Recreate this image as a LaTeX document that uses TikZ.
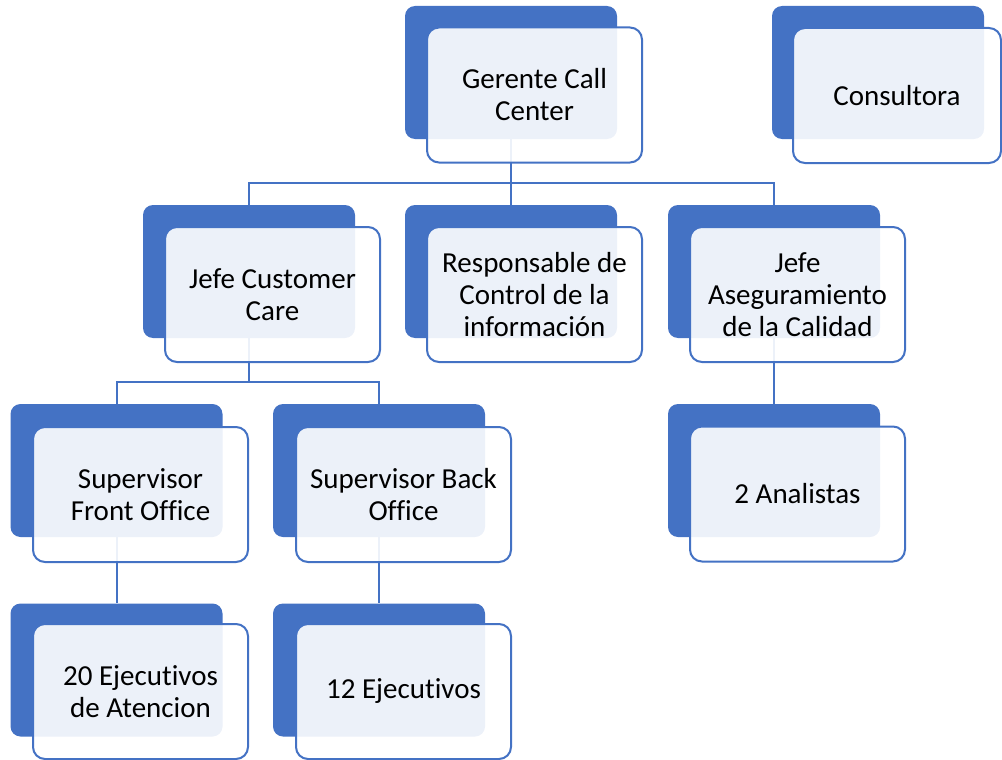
\documentclass[tikz,border=0pt]{standalone}
\usepackage{fontspec}
\setmainfont{Carlito}[Ligatures={NoCommon}]
\definecolor{acc}{HTML}{4472C4}
\begin{document}
\begin{tikzpicture}[x=1pt,y=-1pt,
  backbox/.style={fill=acc, rounded corners=10pt, minimum width=212pt, minimum height=133pt, inner sep=0pt},
  frontbox/.style={draw=acc, line width=2pt, fill=white, fill opacity=0.9, text opacity=1,
    rounded corners=12pt, minimum width=215pt, minimum height=135pt, inner sep=0pt,
    align=center, font=\fontsize{29}{32}\selectfont},
  conn/.style={draw=acc, line width=2pt}]
\useasboundingbox (0,0) rectangle (1002,760);
% back boxes
\node[backbox] (gB) at (511,72.5) {};
\node[backbox] (cB) at (878,72.5) {};
\node[backbox] (jcB) at (249,271.5) {};
\node[backbox] (rB) at (511,271.5) {};
\node[backbox] (jaB) at (774,271.5) {};
\node[backbox] (sfB) at (116.5,470.5) {};
\node[backbox] (sbB) at (379,470.5) {};
\node[backbox] (anB) at (774,470.5) {};
\node[backbox] (e20B) at (116.5,670) {};
\node[backbox] (e12B) at (379,670) {};
% connectors
\draw[conn] (gB.south) -- ++(0,44) coordinate (h1) -| (jcB.north);
\draw[conn] (h1) -| (jaB.north);
\draw[conn] (gB.south) -- (rB.north);
\draw[conn] (jcB.south) -- ++(0,44) coordinate (h2) -| (sfB.north);
\draw[conn] (h2) -| (sbB.north);
\draw[conn] (jaB.south) -- (anB.north);
\draw[conn] (sfB.south) -- (e20B.north);
\draw[conn] (sbB.south) -- (e12B.north);
% front boxes
\node[frontbox] (g) at (534.5,95) {Gerente Call\\Center};
\node[frontbox, minimum width=208pt] (c) at (897,95.5) {Consultora};
\node[frontbox] (jc) at (272.5,294.5) {Jefe Customer\\Care};
\node[frontbox] (r) at (534.5,294.5) {Responsable de\\Control de la\\información};
\node[frontbox] (ja) at (797.5,294.5) {Jefe\\Aseguramiento\\de la Calidad};
\node[frontbox] (sf) at (140.5,494.5) {Supervisor\\Front Office};
\node[frontbox] (sb) at (403.5,494.5) {Supervisor Back\\Office};
\node[frontbox] (an) at (797.5,494) {2 Analistas};
\node[frontbox] (e20) at (140.5,691.5) {20 Ejecutivos\\de Atencion};
\node[frontbox] (e12) at (403.5,691.5) {12 Ejecutivos};
\end{tikzpicture}
\end{document}
